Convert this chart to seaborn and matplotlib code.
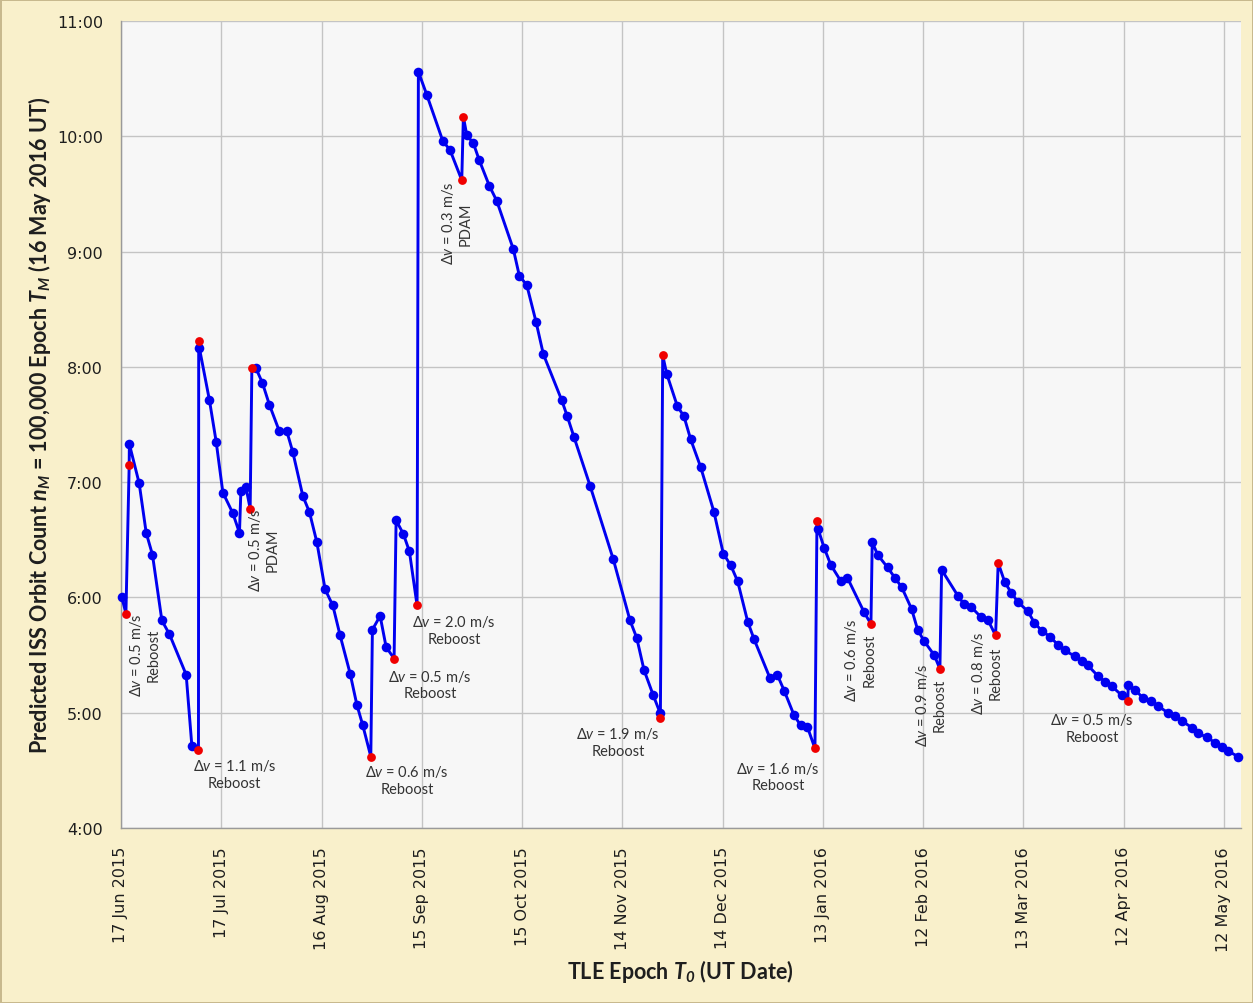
import numpy as np
import pandas as pd
import matplotlib
matplotlib.use("Agg")
import matplotlib.pyplot as plt
import matplotlib.dates as mdates
import matplotlib.ticker as mticker
from matplotlib import font_manager
import seaborn as sns

# ---------------- data ----------------
epoch_start = "2015-06-17"
# days after 17 Jun 2015 00:00 UT
tle_days = [0.27, 1.47, 2.45, 2.5, 5.44, 7.54, 9.42, 12.23, 14.51, 19.5, 21.21, 23.18, 23.25, 23.48,
            26.47, 28.48, 30.48, 33.47, 35.45, 35.87, 37.36, 38.65, 39.16, 40.35, 42.33, 44.42, 47.41,
            49.63, 51.42, 54.41, 56.39, 58.6, 61.08, 63.39, 65.57, 68.56, 70.57, 72.36, 74.75, 75.23,
            77.54, 79.33, 81.72, 82.32, 84.5, 86.3, 88.6, 88.99, 91.5, 96.29, 98.47, 101.97, 102.45,
            103.47, 105.44, 107.24, 110.23, 112.44, 117.41, 119.2, 121.42, 124.2, 126.38, 131.89,
            133.56, 135.57, 140.35, 147.32, 152.32, 154.32, 156.51, 159.29, 161.29, 161.4, 162.1,
            163.3, 166.47, 168.47, 170.48, 173.47, 177.45, 180.23, 182.44, 184.53, 187.53, 189.41,
            194.2, 196.38, 198.47, 201.38, 203.38, 205.36, 207.66, 208.26, 208.64, 210.41, 212.44,
            215.44, 217.38, 222.4, 224.41, 224.8, 226.41, 229.4, 231.59, 233.59, 236.58, 238.38,
            240.35, 243.34, 245.05, 245.56, 250.52, 252.32, 254.32, 257.31, 259.5, 261.71, 262.49,
            264.49, 266.44, 268.39, 271.38, 273.32, 275.56, 277.96, 280.35, 282.44, 285.43, 287.52,
            289.32, 292.31, 294.4, 296.5, 299.49, 301.28, 301.4, 303.38, 305.77, 308.17, 310.26,
            313.25, 315.35, 317.44, 320.43, 322.23, 324.92, 327.31, 329.4, 331.2, 334.19]
# predicted time of orbit 100,000 on 16 May 2016, in hours UT
orbit_hours = [6.00, 5.86, 7.15, 7.33, 6.99, 6.56, 6.37, 5.80, 5.68, 5.33, 4.71, 4.68, 8.22, 8.16,
               7.71, 7.35, 6.91, 6.73, 6.56, 6.92, 6.96, 6.77, 7.99, 7.99, 7.86, 7.67, 7.44,
               7.44, 7.26, 6.88, 6.74, 6.48, 6.07, 5.93, 5.67, 5.34, 5.07, 4.89, 4.62, 5.72,
               5.84, 5.57, 5.47, 6.67, 6.55, 6.40, 5.93, 10.56, 10.36, 9.96, 9.88, 9.62, 10.17,
               10.01, 9.94, 9.79, 9.57, 9.44, 9.02, 8.79, 8.71, 8.39, 8.11, 7.71,
               7.57, 7.39, 6.97, 6.33, 5.80, 5.65, 5.37, 5.15, 5.00, 4.95, 8.10,
               7.94, 7.66, 7.57, 7.37, 7.13, 6.74, 6.38, 6.28, 6.14, 5.79, 5.64,
               5.30, 5.33, 5.19, 4.98, 4.89, 4.88, 4.69, 6.66, 6.59, 6.43, 6.28,
               6.14, 6.17, 5.87, 5.77, 6.48, 6.37, 6.26, 6.17, 6.09, 5.90, 5.72,
               5.62, 5.50, 5.38, 6.24, 6.01, 5.94, 5.92, 5.83, 5.80, 5.67, 6.30,
               6.13, 6.04, 5.96, 5.88, 5.78, 5.71, 5.66, 5.59, 5.54, 5.49, 5.45,
               5.41, 5.32, 5.27, 5.23, 5.15, 5.10, 5.24, 5.20, 5.13, 5.10, 5.06,
               5.00, 4.97, 4.93, 4.87, 4.82, 4.79, 4.74, 4.70, 4.67, 4.62]
# 1 = estimate just before / after a manoeuvre (red), 0 = ordinary TLE (blue)
is_burn = [0, 1, 1, 0, 0, 0, 0, 0, 0, 0, 0, 1, 1, 0,
           0, 0, 0, 0, 0, 0, 0, 1, 1, 0, 0, 0, 0,
           0, 0, 0, 0, 0, 0, 0, 0, 0, 0, 0, 1, 0,
           0, 0, 1, 0, 0, 0, 1, 0, 0, 0, 0, 1, 1,
           0, 0, 0, 0, 0, 0, 0, 0, 0, 0, 0,
           0, 0, 0, 0, 0, 0, 0, 0, 0, 1, 1,
           0, 0, 0, 0, 0, 0, 0, 0, 0, 0, 0,
           0, 0, 0, 0, 0, 0, 1, 1, 0, 0, 0,
           0, 0, 0, 1, 0, 0, 0, 0, 0, 0, 0,
           0, 0, 1, 0, 0, 0, 0, 0, 0, 1, 1,
           0, 0, 0, 0, 0, 0, 0, 0, 0, 0, 0,
           0, 0, 0, 0, 0, 1, 0, 0, 0, 0, 0,
           0, 0, 0, 0, 0, 0, 0, 0, 0, 0]

ann_labels = ["0.5 m/s\nReboost", "1.1 m/s\nReboost", "0.5 m/s\nPDAM", "0.6 m/s\nReboost",
              "0.5 m/s\nReboost", "2.0 m/s\nReboost", "0.3 m/s\nPDAM", "1.9 m/s\nReboost",
              "1.6 m/s\nReboost", "0.6 m/s\nReboost", "0.9 m/s\nReboost", "0.8 m/s\nReboost",
              "0.5 m/s\nReboost"]
ann_days = [6.9, 33.9, 42.6, 85.6, 92.5, 99.7, 100.4, 148.7, 196.6, 221.1, 242.1, 258.9, 290.6]
ann_hours = [5.51, 4.47, 6.42, 4.42, 5.25, 5.72, 9.25, 4.75, 4.45, 5.46, 5.07, 5.35, 4.87]
ann_rotation = [90, 0, 90, 0, 0, 0, 90, 0, 0, 90, 90, 90, 0]

x_start = "2015-06-17"
x_end = "2016-05-18"

# ---------------- styling ----------------
sns.set_theme(style="whitegrid")


def have_font(name):
    try:
        font_manager.findfont(name, fallback_to_default=False)
        return True
    except Exception:
        return False


ann_font = "Lato" if have_font("Lato") else "DejaVu Sans"
label_font = ann_font

plt.rcParams["font.family"] = ["DejaVu Sans"]
plt.rcParams["mathtext.fontset"] = "custom"
plt.rcParams["mathtext.rm"] = ann_font
plt.rcParams["mathtext.it"] = ann_font + ":italic"
plt.rcParams["mathtext.bf"] = label_font + ":bold"
has_bfit = "mathtext.bfit" in plt.rcParams
if has_bfit:
    plt.rcParams["mathtext.bfit"] = label_font + ":italic:bold"

fig_bg = "#F9F0CB"
ax_bg = "#F7F7F7"
grid_c = "#C4C4C4"
text_c = "#1E1E1E"

fig = plt.figure(figsize=(12.53, 10.04), dpi=100)
fig.patch.set_facecolor(fig_bg)
fig.patch.set_edgecolor("#C8B98E")
fig.patch.set_linewidth(2.0)
ax = fig.add_axes([121 / 1253, 1 - 829 / 1004, (1240.5 - 121) / 1253, (829 - 22) / 1004])
ax.set_facecolor(ax_bg)

t0 = pd.Timestamp(epoch_start)
df = pd.DataFrame({
    "epoch": t0 + pd.to_timedelta(tle_days, unit="D"),
    "hours": orbit_hours,
    "burn": is_burn,
})

sns.lineplot(data=df, x="epoch", y="hours", sort=False, estimator=None,
             color="#0000F0", linewidth=2.1, ax=ax, zorder=3)
sns.scatterplot(data=df[df["burn"] == 0], x="epoch", y="hours", color="#0000F0",
                s=48, linewidth=0, ax=ax, zorder=4, clip_on=False)
sns.scatterplot(data=df[df["burn"] == 1], x="epoch", y="hours", color="#F00000",
                s=40, linewidth=0, ax=ax, zorder=5, clip_on=False)

for lab, d, h, rot in zip(ann_labels, ann_days, ann_hours, ann_rotation):
    ax.text(t0 + pd.Timedelta(days=d), h, r"$\mathit{\Delta v}$ = " + lab,
            rotation=rot, ha="center", va="center", multialignment="center",
            fontsize=10.5, family=[ann_font, "DejaVu Sans"], color="#333333",
            zorder=6, linespacing=1.25)

# axes limits / ticks
ax.set_xlim(pd.Timestamp(x_start), pd.Timestamp(x_end) - pd.Timedelta(days=1))
ax.set_ylim(4, 11)

major_dates = pd.date_range(x_start, periods=12, freq="30D")
minor_dates = pd.date_range(x_start, periods=34, freq="10D")
ax.xaxis.set_major_locator(mticker.FixedLocator(mdates.date2num(major_dates)))
ax.xaxis.set_minor_locator(mticker.FixedLocator(mdates.date2num(minor_dates)))
ax.xaxis.set_major_formatter(mdates.DateFormatter("%d %b %Y"))

ax.yaxis.set_major_locator(mticker.MultipleLocator(1))
ax.yaxis.set_minor_locator(mticker.MultipleLocator(1 / 6))
ax.yaxis.set_major_formatter(mticker.FuncFormatter(lambda v, p: f"{int(round(v))}:00"))

ax.grid(True, which="major", color=grid_c, linewidth=1.0)
ax.grid(False, which="minor")

for s in ["top", "right"]:
    ax.spines[s].set_visible(False)
for s in ["left", "bottom"]:
    ax.spines[s].set_visible(True)
    ax.spines[s].set_color("#9A9A9A")
    ax.spines[s].set_linewidth(1.0)

ax.tick_params(axis="both", which="major", direction="inout", length=10, width=1,
               color="#9A9A9A", labelsize=11.5, labelcolor=text_c, pad=6)
ax.tick_params(axis="both", which="minor", direction="in", length=5, width=1, color="#9A9A9A")
ax.tick_params(axis="x", which="major", labelrotation=90, pad=8)
ax.tick_params(axis="y", which="major", pad=8)

if has_bfit:
    ylab = (r"Predicted ISS Orbit Count $\mathbfit{n}_\mathbfit{M}$ = 100,000 Epoch "
            r"$\mathbfit{T}_\mathbfit{M}$ (16 May 2016 UT)")
    xlab = r"TLE Epoch $\mathbfit{T}_\mathbfit{0}$ (UT Date)"
else:
    ylab = (r"Predicted ISS Orbit Count $\mathit{n}_\mathit{M}$ = 100,000 Epoch "
            r"$\mathit{T}_\mathit{M}$ (16 May 2016 UT)")
    xlab = r"TLE Epoch $\mathit{T}_\mathit{0}$ (UT Date)"

ax.set_ylabel(ylab, fontsize=15.5, fontweight="bold", family=label_font, color=text_c, labelpad=3)
ax.set_xlabel(xlab, fontsize=15.5, fontweight="bold", family=label_font, color=text_c, labelpad=5)

fig.savefig("out.png", dpi=100, facecolor=fig_bg, edgecolor=fig.get_edgecolor())
